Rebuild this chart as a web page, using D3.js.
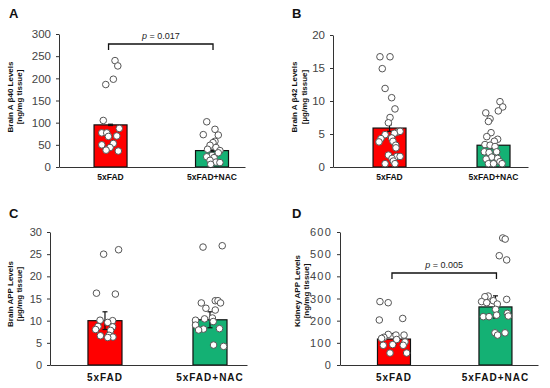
<!DOCTYPE html>
<html>
<head>
<meta charset="utf-8">
<script src="https://cdn.jsdelivr.net/npm/d3@7"></script>
<style>
  body { margin: 0; background: #fff; }
  svg { font-family: Arial, "Liberation Sans", sans-serif; }
</style>
</head>
<body>
<div id="chart"></div>
<script>
// groups on the x axis
const groups = ["5xFAD", "5xFAD+NAC"];

// Panel A: Brain Ab40 (ng/mg tissue)
const meansA = [95, 37];
const semA = [1.5, 1.5];
const valuesA = [
    [240, 228, 198, 186, 105, 87, 77, 77, 70, 69, 53, 50, 44, 38, 36],
    [102, 85, 73, 72, 58, 55, 49, 44, 40, 37, 32, 26, 23, 21, 15, 11, 10, 6]
];
const jitterA = [
    [0.27, 0.44, 0.17, -0.29, -0.44, 0.53, -0.53, -0.23, 0.38, -0.13, 0.17, -0.53, -0.03, -0.27, 0.47],
    [-0.32, 0.18, -0.53, 0.38, 0.18, 0.06, -0.12, 0.24, -0.27, 0.48, 0.38, 0, -0.32, 0.12, -0.12, 0.24, 0.48, -0.08]
];
const ticksA = [0, 50, 100, 150, 200, 250, 300];

// Panel B: Brain Ab42 (ug/mg tissue)
const meansB = [5.9, 3.3];
const semB = [0.5, 0.5];
const valuesB = [
    [16.7, 16.7, 14.9, 11.9, 10.5, 8.8, 7.5, 6.7, 5.3, 5.4, 5.1, 4.9, 4.4, 4.3, 3.8, 3.9, 3.3, 2.9, 1.8, 1.6, 1.6, 1.3, 0.9, 0.5, 0.5],
    [9.9, 9.1, 8.5, 8.2, 7.3, 6.9, 5.2, 4.6, 4.2, 3.9, 3.4, 3.3, 3.1, 2.3, 2.2, 2.3, 1.5, 1.2, 1.3, 0.8, 0.5, 0.5, 0.5]
];
const jitterB = [
    [-0.58, 0.03, -0.44, -0.27, 0.13, 0.33, 0.03, -0.07, 0.5, 0.64, 0.29, -0.27, 0.13, -0.52, -0.64, 0.21, 0.38, 0.39, -0.07, 0.44, 0.64, 0.15, 0.23, -0.27, 0.33],
    [0.39, 0.56, 0.29, -0.47, -0.21, -0.31, -0.15, -0.41, 0.25, 0.05, -0.52, -0.21, 0.09, -0.56, -0.27, 0.19, -0.11, -0.45, 0.25, 0.39, -0.31, 0, 0.52]
];
const ticksB = [0, 5, 10, 15, 20];

// Panel C: Brain APP (ug/mg tissue)
const meansC = [10.0, 10.2];
const semC = [2.0, 1.8];
const valuesC = [
    [26.0, 25.0, 16.2, 16.0, 10.1, 10.0, 9.6, 8.7, 8.6, 8.0, 7.8, 6.6, 6.7, 6.3, 6.2],
    [26.9, 26.6, 14.5, 14.5, 14.0, 14.0, 12.8, 12.4, 10.6, 10.4, 10.1, 9.8, 9.0, 8.2, 8.1, 7.9, 4.5, 4.2]
];
const jitterC = [
    [0.8, -0.08, -0.5, 0.61, -0.29, 0.45, 0.16, -0.41, 0.45, -0.55, 0.33, -0.27, 0.24, 0.47, 0.16],
    [0.72, -0.41, 0.31, 0.47, -0.51, 0.62, -0.24, 0.31, 0.14, -0.32, -0.85, 0.19, -0.85, 0.56, -0.38, -0.67, 0.21, 0.8]
];
const ticksC = [0, 5, 10, 15, 20, 25, 30];

// Panel D: Kidney APP (ng/mg tissue)
const meansD = [117, 262];
const semD = [25, 50];
const valuesD = [
    [286, 281, 210, 203, 138, 135, 135, 125, 120, 115, 104, 92, 89, 89, 54, 54],
    [573, 568, 493, 474, 311, 308, 296, 290, 286, 281, 275, 251, 233, 225, 221, 218, 218, 145, 145, 135]
];
const jitterD = [
    [-0.85, -0.35, 0.53, -0.89, -0.35, 0.12, 0.61, -0.61, -0.75, 0.16, 0.67, -0.08, -0.65, 0.56, -0.24, 0.77],
    [0.44, 0.59, 0.23, 0.68, -0.44, -0.64, 0.68, -0.13, -0.84, -0.53, 0.11, 0.01, 0.72, 0.07, 0.78, -0.74, -0.39, -0.03, 0.58, 0.13]
];
const ticksD = [0, 100, 200, 300, 400, 500, 600];

const barColors = ["#ff0000", "#14b174"];

const svg = d3.select("#chart")
    .append("svg")
    .attr("width", 550)
    .attr("height", 388);

// layout of the four panels
const panels = [
    { letter: "A", means: meansA, sem: semA, values: valuesA, jitter: jitterA, ticks: ticksA,
      label: ["Brain A \u03b240 Levels", "[ng/mg tissue]"], p: "0.017",
      left: 59, right: 245, top: 34, bottom: 167, inner: 0.675, outer: 0.254, align: 0.68,
      tickFont: 11.5, tickSpacing: 0, catFont: 8.5, catSpacing: 0, catPad: 7,
      labX: [13, 22], labY: 97, letterX: 9, letterY: 17.5, bracketY: 44 },
    { letter: "B", means: meansB, sem: semB, values: valuesB, jitter: jitterB, ticks: ticksB,
      label: ["Brain A \u03b242 Levels", "[\u00b5g/mg tissue]"], p: null,
      left: 333, right: 528, top: 35, bottom: 167, inner: 0.683, outer: 0.279, align: 0.69,
      tickFont: 11.5, tickSpacing: 0, catFont: 8.5, catSpacing: 0, catPad: 7,
      labX: [297, 307], labY: 97, letterX: 292, letterY: 17.5 },
    { letter: "C", means: meansC, sem: semC, values: valuesC, jitter: jitterC, ticks: ticksC,
      label: ["Brain APP Levels", "[\u00b5g/mg tissue]"], p: null,
      left: 50, right: 247, top: 232, bottom: 365, inner: 0.676, outer: 0.276, align: 0.655,
      tickFont: 11, tickSpacing: 0, catFont: 10, catSpacing: 1, catPad: 9,
      labX: [13, 22], labY: 294, letterX: 9, letterY: 217.5 },
    { letter: "D", means: meansD, sem: semD, values: valuesD, jitter: jitterD, ticks: ticksD,
      label: ["Kidney APP Levels", "[ng/mg tissue]"], p: "0.005",
      left: 340, right: 538, top: 232, bottom: 365, inner: 0.675, outer: 0.313, align: 0.59,
      tickFont: 11, tickSpacing: 1.2, catFont: 10, catSpacing: 1, catPad: 9,
      labX: [300, 309], labY: 291, letterX: 292, letterY: 217.5, bracketY: 273 }
];

panels.forEach(function(pn) {
    const g = svg.append("g");

    const x = d3.scaleBand()
        .domain(groups)
        .range([pn.left, pn.right])
        .paddingInner(pn.inner)
        .paddingOuter(pn.outer)
        .align(pn.align);

    const y = d3.scaleLinear()
        .domain([0, d3.max(pn.ticks)])
        .range([pn.bottom, pn.top]);

    // half bar width, used for dot jitter
    const jx = d3.scaleLinear().domain([-1, 1]).range([-x.bandwidth() / 2, x.bandwidth() / 2]);

    // bars
    g.selectAll(".bar")
        .data(pn.means)
        .enter()
        .append("rect")
        .attr("x", (d, i) => x(groups[i]))
        .attr("y", d => y(d))
        .attr("width", x.bandwidth())
        .attr("height", d => y(0) - y(d))
        .attr("fill", (d, i) => barColors[i])
        .attr("stroke", "#111")
        .attr("stroke-width", 1.2);

    // error bars
    pn.means.forEach(function(m, i) {
        const cx = x(groups[i]) + x.bandwidth() / 2;
        const s = pn.sem[i];
        g.append("line")
            .attr("x1", cx).attr("x2", cx)
            .attr("y1", y(m - s)).attr("y2", y(m + s))
            .attr("stroke", "#111").attr("stroke-width", 1.2);
        [m - s, m + s].forEach(function(v) {
            g.append("line")
                .attr("x1", cx - 2.5).attr("x2", cx + 2.5)
                .attr("y1", y(v)).attr("y2", y(v))
                .attr("stroke", "#111").attr("stroke-width", 1.2);
        });
    });

    // individual points
    pn.values.forEach(function(vals, i) {
        const cx = x(groups[i]) + x.bandwidth() / 2;
        g.selectAll(".dot" + i)
            .data(vals)
            .enter()
            .append("circle")
            .attr("cx", (d, k) => cx + jx(pn.jitter[i][k]))
            .attr("cy", d => y(d))
            .attr("r", 3.3)
            .attr("fill", "#fff")
            .attr("stroke", "#555")
            .attr("stroke-width", 1);
    });

    // y axis
    const yAxis = g.append("g")
        .attr("transform", `translate(${pn.left},0)`)
        .call(d3.axisLeft(y).tickValues(pn.ticks).tickSize(3).tickSizeOuter(0).tickPadding(5));
    yAxis.select(".domain").attr("stroke", "#333");
    yAxis.selectAll(".tick line").attr("stroke", "#333");
    yAxis.selectAll("text")
        .attr("fill", "#444")
        .style("font-size", pn.tickFont + "px")
        .style("letter-spacing", pn.tickSpacing + "px")
        .style("font-family", "Arial, 'Liberation Sans', sans-serif");

    // x axis
    const xAxis = g.append("g")
        .attr("transform", `translate(0,${pn.bottom})`)
        .call(d3.axisBottom(x).tickSize(0).tickSizeOuter(0).tickPadding(pn.catPad));
    xAxis.select(".domain").attr("stroke", "#333");
    xAxis.selectAll("text")
        .attr("fill", "#111")
        .style("font-size", pn.catFont + "px")
        .style("font-weight", "bold")
        .style("letter-spacing", pn.catSpacing + "px")
        .style("font-family", "Arial, 'Liberation Sans', sans-serif");

    // y axis label, two lines
    pn.label.forEach(function(t, k) {
        g.append("text")
            .attr("transform", `translate(${pn.labX[k]},${pn.labY}) rotate(-90)`)
            .attr("text-anchor", "middle")
            .style("font-size", "8px")
            .style("font-weight", "bold")
            .attr("fill", "#111")
            .text(t);
    });

    // panel letter
    g.append("text")
        .attr("x", pn.letterX)
        .attr("y", pn.letterY)
        .style("font-size", "13px")
        .style("font-weight", "bold")
        .attr("fill", "#111")
        .text(pn.letter);

    // significance bracket
    if (pn.p) {
        const x1 = x(groups[0]) + x.bandwidth() / 2 - 2;
        const x2 = x(groups[1]) + x.bandwidth() / 2 + 1;
        g.append("path")
            .attr("d", `M${x1},${pn.bracketY + 6}V${pn.bracketY}H${x2}V${pn.bracketY + 6}`)
            .attr("fill", "none")
            .attr("stroke", "#111")
            .attr("stroke-width", 1.3);
        const pt = g.append("text")
            .attr("x", (x1 + x2) / 2)
            .attr("y", pn.bracketY - 5)
            .attr("text-anchor", "middle")
            .style("font-size", "9px")
            .attr("fill", "#222");
        pt.append("tspan").style("font-style", "italic").text("p");
        pt.append("tspan").text(" =  " + pn.p);
    }
});
</script>
</body>
</html>
